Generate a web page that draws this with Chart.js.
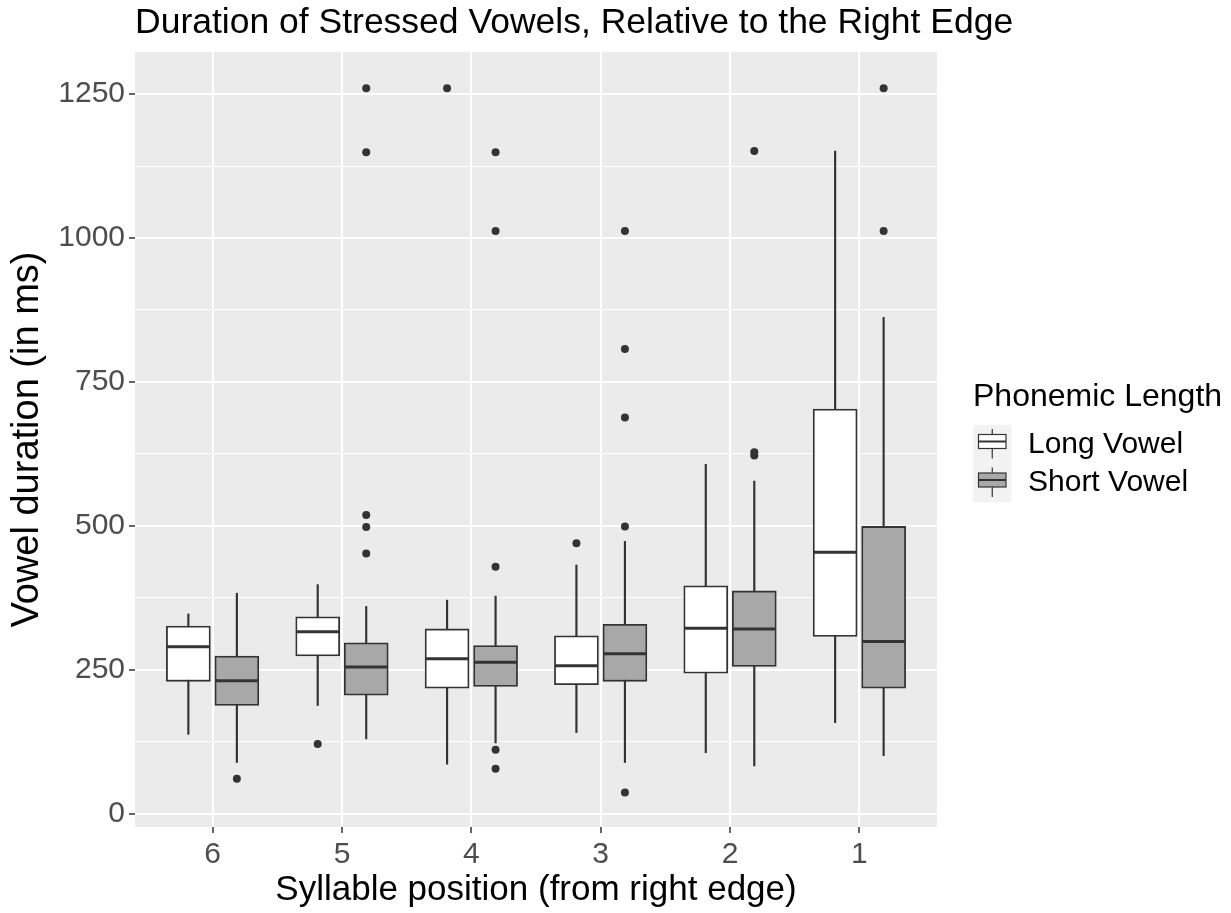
<!DOCTYPE html>
<html>
<head>
<meta charset="utf-8">
<title>Duration of Stressed Vowels</title>
<script src="https://cdn.jsdelivr.net/npm/chart.js@4.4.0/dist/chart.umd.min.js"></script>
<style>
    body { margin: 0; background: #ffffff; }
    #wrap { width: 1231px; height: 913px; }
</style>
</head>
<body>
<div id="wrap"><canvas id="chart" width="1231" height="913"></canvas></div>
<script>
// Syllable position, counted from the right edge (left to right on the axis)
const positions = ['6', '5', '4', '3', '2', '1'];
const groups = ['Long Vowel', 'Short Vowel'];

// Long vowels - box plot summary per position (ms)
const longLower = [138, 188, 86, 141, 106, 158];
const longQ1 = [230, 274, 218, 224, 244, 308];
const longMedian = [290, 316, 269, 257, 322, 454];
const longQ3 = [326, 342, 321, 309, 396, 703];
const longUpper = [347, 398, 371, 432, 607, 1151];
const longOutliers = [[], [121], [1260], [470], [], []];

// Short vowels
const shortLower = [89, 130, 123, 89, 83, 101];
const shortQ1 = [188, 206, 221, 230, 256, 218];
const shortMedian = [231, 255, 263, 278, 321, 299];
const shortQ3 = [274, 297, 292, 329, 387, 499];
const shortUpper = [383, 360, 378, 473, 578, 862];
const shortOutliers = [[61], [452, 498, 519, 1149, 1260], [78, 111, 429, 1012, 1149], [37, 499, 688, 807, 1012], [622, 628, 1151], [1012, 1260]];

// Axis ticks
const yMajorTicks = [0, 250, 500, 750, 1000, 1250];
const yMinorTicks = [125, 375, 625, 875, 1125];

const chartTitle = 'Duration of Stressed Vowels, Relative to the Right Edge';
const legendTitle = 'Phonemic Length';

const FONT = '"Liberation Sans", Arial, sans-serif';
const INK = '#333333';
const fills = ['#FFFFFF', '#A8A8A8'];
const dodge = 0.1875;      // half of the dodge width (0.75 / 2 / 2)
const boxPx = 44;          // box width in pixels (0.3375 category units)

Chart.defaults.font.family = FONT;

function boxDatasets(name, fill, offset, lower, q1, median, q3, upper, outliers) {
    const xAt = i => i + 1 + offset;
    return [
        {
            type: 'bar',
            label: name + ' whisker',
            data: positions.map((p, i) => ({ x: xAt(i), y: [lower[i], upper[i]] })),
            backgroundColor: INK,
            borderWidth: 0,
            barThickness: 1.5,
            grouped: false,
            order: 4
        },
        {
            type: 'bar',
            label: name,
            data: positions.map((p, i) => ({ x: xAt(i), y: [q1[i], q3[i]] })),
            backgroundColor: fill,
            borderColor: INK,
            borderWidth: 1.8,
            borderSkipped: false,
            barThickness: boxPx,
            grouped: false,
            order: 3
        },
        {
            type: 'scatter',
            label: name + ' median',
            data: positions.map((p, i) => ({ x: xAt(i), y: median[i] })),
            pointStyle: 'line',
            pointRadius: boxPx / 2 - 0.5,
            pointBorderWidth: 3,
            pointBorderColor: INK,
            order: 2
        },
        {
            type: 'scatter',
            label: name + ' outliers',
            data: outliers.flatMap((vals, i) => vals.map(v => ({ x: xAt(i), y: v }))),
            pointRadius: 4,
            pointBackgroundColor: INK,
            pointBorderWidth: 0,
            order: 1
        }
    ];
}

// grey panel behind the grid
const panelBackground = {
    id: 'panelBackground',
    beforeDraw(chart) {
        const { ctx, chartArea: a } = chart;
        ctx.save();
        ctx.fillStyle = '#EBEBEB';
        ctx.fillRect(a.left, a.top, a.right - a.left, a.bottom - a.top);
        ctx.restore();
    }
};

// title left-aligned with the panel, allowed to run past its right edge
const panelTitle = {
    id: 'panelTitle',
    afterDraw(chart) {
        const ctx = chart.ctx;
        ctx.save();
        ctx.fillStyle = '#000000';
        ctx.font = '35.5px ' + FONT;
        ctx.textBaseline = 'middle';
        ctx.textAlign = 'left';
        ctx.fillText(chartTitle, chart.chartArea.left, 23);
        ctx.restore();
    }
};

// ggplot style legend with box plot keys
const boxLegend = {
    id: 'boxLegend',
    afterDraw(chart) {
        const ctx = chart.ctx;
        const left = chart.chartArea.right + 36;
        const keyTop = 425;
        const keySize = 38.5;
        ctx.save();
        ctx.fillStyle = '#000000';
        ctx.font = '32px ' + FONT;
        ctx.textBaseline = 'middle';
        ctx.textAlign = 'left';
        ctx.fillText(legendTitle, left, 397);

        ctx.fillStyle = '#F2F2F2';
        ctx.fillRect(left, keyTop, keySize, keySize * groups.length);

        groups.forEach((g, k) => {
            const top = keyTop + k * keySize;
            const cx = left + keySize / 2;
            ctx.strokeStyle = INK;
            ctx.lineWidth = 1.2;
            ctx.beginPath();
            ctx.moveTo(cx, top + 4);
            ctx.lineTo(cx, top + keySize - 5);
            ctx.stroke();
            ctx.fillStyle = fills[k];
            ctx.fillRect(left + 5.5, top + 9.5, keySize - 11, 14);
            ctx.strokeRect(left + 5.5, top + 9.5, keySize - 11, 14);
            ctx.lineWidth = 2;
            ctx.beginPath();
            ctx.moveTo(left + 5.5, top + 16.5);
            ctx.lineTo(left + keySize - 5.5, top + 16.5);
            ctx.stroke();

            ctx.fillStyle = '#000000';
            ctx.font = '30px ' + FONT;
            ctx.fillText(g, left + 55, top + keySize / 2);
        });
        ctx.restore();
    }
};

const datasets = [
    ...boxDatasets(groups[0], fills[0], -dodge, longLower, longQ1, longMedian, longQ3, longUpper, longOutliers),
    ...boxDatasets(groups[1], fills[1], dodge, shortLower, shortQ1, shortMedian, shortQ3, shortUpper, shortOutliers)
];

new Chart(document.getElementById('chart'), {
    type: 'bar',
    data: { datasets },
    plugins: [panelBackground, panelTitle, boxLegend],
    options: {
        responsive: false,
        animation: false,
        events: [],
        layout: { padding: { left: 0, right: 294, top: 52, bottom: 0 } },
        plugins: {
            legend: { display: false },
            tooltip: { enabled: false },
            title: { display: false }
        },
        scales: {
            x: {
                type: 'linear',
                min: 0.4,
                max: 6.6,
                offset: false,
                afterBuildTicks: scale => {
                    scale.ticks = positions.map((p, i) => ({ value: i + 1 }));
                },
                afterFit: scale => { scale.height = 86; },
                ticks: {
                    autoSkip: false,
                    maxRotation: 0,
                    padding: 4,
                    color: '#4D4D4D',
                    font: { size: 30 },
                    callback: (value, index) => positions[index]
                },
                grid: {
                    offset: false,
                    color: '#FFFFFF',
                    lineWidth: 2,
                    tickColor: INK,
                    tickWidth: 1.5,
                    tickLength: 6
                },
                border: { display: false },
                title: {
                    display: true,
                    text: 'Syllable position (from right edge)',
                    color: '#000000',
                    font: { size: 35, lineHeight: 1.2 },
                    padding: { top: 0, bottom: 2 }
                }
            },
            y: {
                type: 'linear',
                min: -23,
                max: 1323,
                afterBuildTicks: scale => {
                    scale.ticks = [...yMajorTicks, ...yMinorTicks].sort((a, b) => a - b).map(v => ({ value: v }));
                },
                afterFit: scale => { scale.width = 135; },
                ticks: {
                    autoSkip: false,
                    padding: 4,
                    color: '#4D4D4D',
                    font: { size: 30 },
                    callback: value => yMajorTicks.includes(value) ? value : ''
                },
                grid: {
                    color: '#FFFFFF',
                    lineWidth: ctx => yMajorTicks.includes(ctx.tick.value) ? 2 : 1,
                    tickColor: ctx => yMajorTicks.includes(ctx.tick.value) ? INK : 'rgba(0,0,0,0)',
                    tickWidth: 1.5,
                    tickLength: 6
                },
                border: { display: false },
                title: {
                    display: true,
                    text: 'Vowel duration (in ms)',
                    color: '#000000',
                    font: { size: 38, lineHeight: 1.2 },
                    padding: { top: 5, bottom: 0 }
                }
            }
        }
    }
});
</script>
</body>
</html>
